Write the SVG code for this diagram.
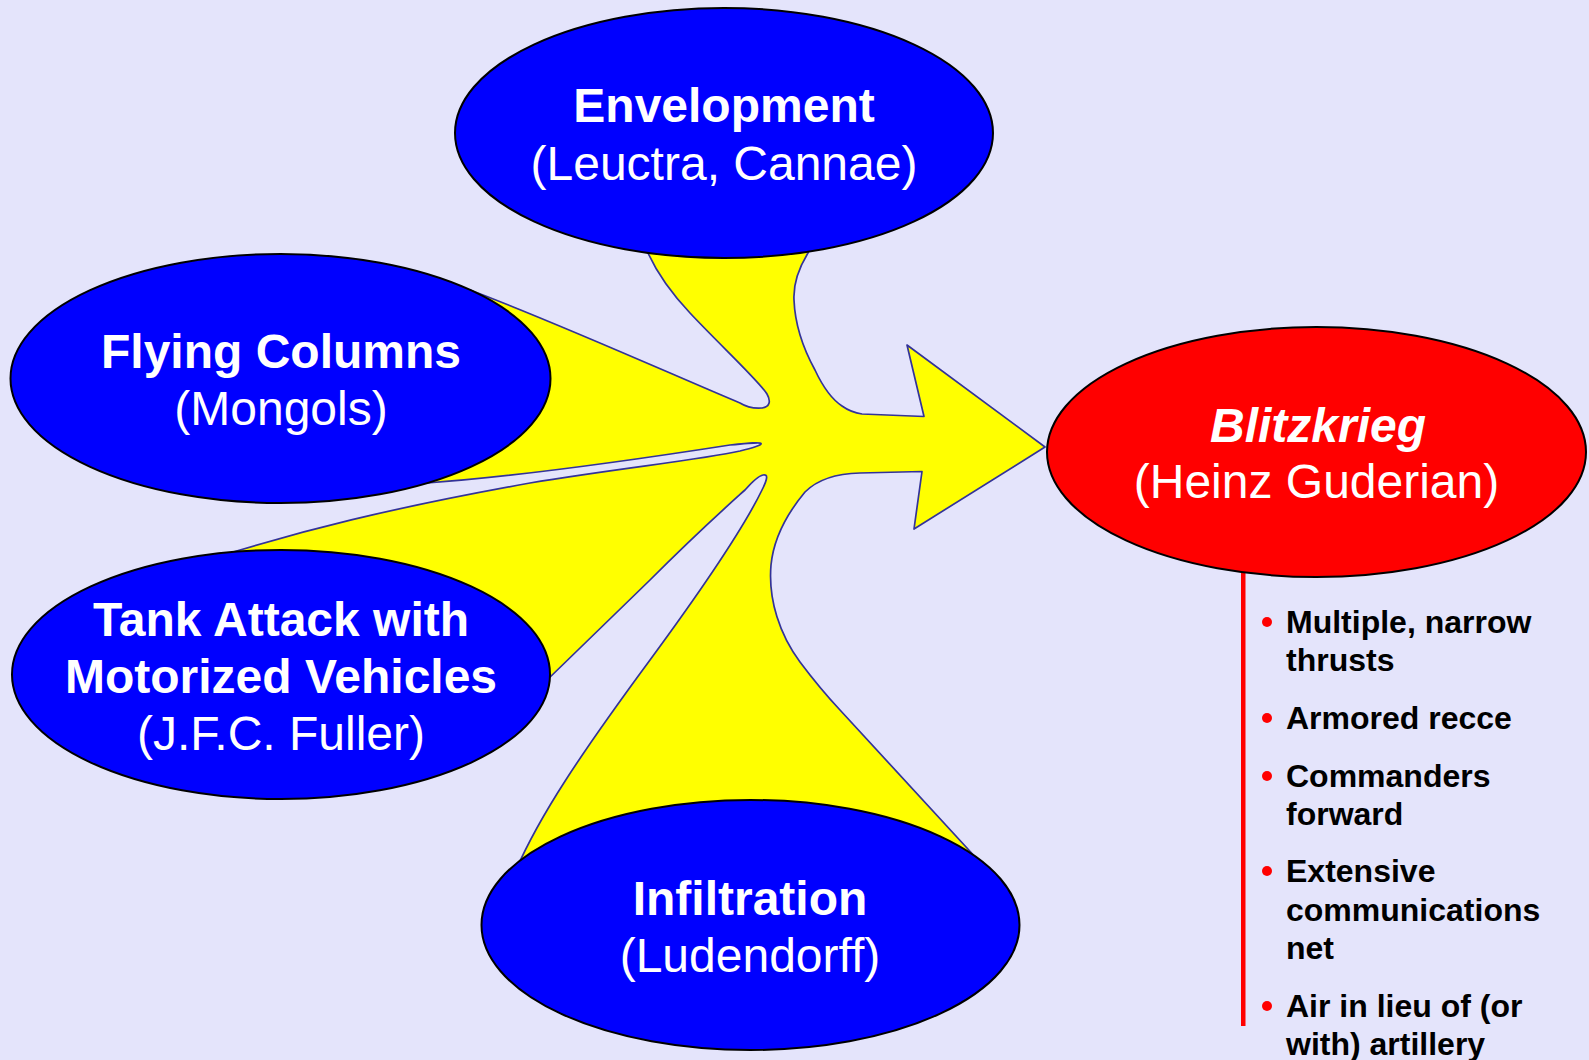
<svg xmlns="http://www.w3.org/2000/svg" width="1589" height="1060" viewBox="0 0 1589 1060">
<style>
.bg{fill:#E4E4FB}
.node{fill:#0000FF;stroke:#000;stroke-width:2}
.hot{fill:#FF0000;stroke:#000;stroke-width:2}
.t{font-family:"Liberation Sans",Arial,sans-serif;font-size:48px;fill:#FFFFFF;text-anchor:middle}
.b{font-weight:bold}
.flow{fill:#FFFF00;stroke:#333399;stroke-width:1.7;stroke-linejoin:round}
.li{font-family:"Liberation Sans",Arial,sans-serif;font-size:32px;font-weight:bold;fill:#000}
.dot{fill:#FF0000}
</style>
<rect class="bg" x="0" y="0" width="1589" height="1060"/>
<g id="connectors">
<path class="flow" d="M 724,140 L 815,235 L 808,253
C 800,266 793,281 794,300
C 795,325 804,350 815,370
C 822,385 830,398 842,406
C 849,411 855,413 862,414
L 924,416.5 L 907,345 L 1045,447 L 914,529 L 922,471.5 L 860,473
C 838,473.5 818,479 805,492
C 790,510 774,535 771,565
C 768,600 780,635 800,662
C 812,678 825,694 840,710
L 978,860 L 950,900 L 750,925 L 516,870
C 540,815 580,755 650,660
C 700,592 745,525 762,490
C 768,478 768,474 763,475
C 758,476 752,482 745,490
C 725,508 700,530 650,580
L 545,682 L 281,675 L 200,562 L 240,550
C 300,532 380,510 530,483
C 620,468 700,460 740,451
C 752,448 762,445 761,443.5
C 760,442 750,443 730,445
C 640,459 510,477 427,483
L 400,485 L 280,380 L 440,300 L 470,290
C 560,324 680,378 740,403
C 748,408 756,408.5 762,408
C 770,407 771,401 767,394
C 760,382 720,345 690,313
C 675,297 658,275 648,253
L 641,240 Z"/>
</g>
<g id="node-envelopment">
<ellipse class="node" cx="724" cy="133" rx="269" ry="125"/>
<text class="t b" x="724" y="122">Envelopment</text>
<text class="t" x="724" y="180">(Leuctra, Cannae)</text>
</g>
<g id="node-flying-columns">
<ellipse class="node" cx="280.5" cy="378.5" rx="270" ry="124.5"/>
<text class="t b" x="281" y="368">Flying Columns</text>
<text class="t" x="281" y="425">(Mongols)</text>
</g>
<g id="node-tank-attack">
<ellipse class="node" cx="281" cy="674.5" rx="269" ry="124.5"/>
<text class="t b" x="281" y="636">Tank Attack with</text>
<text class="t b" x="281" y="693">Motorized Vehicles</text>
<text class="t" x="281" y="750">(J.F.C. Fuller)</text>
</g>
<g id="node-infiltration">
<ellipse class="node" cx="750.5" cy="925" rx="269" ry="125"/>
<text class="t b" x="750" y="915">Infiltration</text>
<text class="t" x="750" y="972">(Ludendorff)</text>
</g>
<g id="node-blitzkrieg">
<rect x="1241" y="560" width="4.5" height="466" fill="#FF0000"/>
<ellipse class="hot" cx="1316.5" cy="452" rx="269.5" ry="125"/>
<text class="t b" x="1318" y="442" font-style="italic">Blitzkrieg</text>
<text class="t" x="1316.5" y="498">(Heinz Guderian)</text>
<g id="blitzkrieg-list">
<circle class="dot" cx="1267" cy="622" r="5"/>
<text class="li" x="1286" y="633">Multiple, narrow</text>
<text class="li" x="1286" y="671">thrusts</text>
<circle class="dot" cx="1267" cy="718" r="5"/>
<text class="li" x="1286" y="729">Armored recce</text>
<circle class="dot" cx="1267" cy="776" r="5"/>
<text class="li" x="1286" y="787">Commanders</text>
<text class="li" x="1286" y="825">forward</text>
<circle class="dot" cx="1267" cy="871" r="5"/>
<text class="li" x="1286" y="882">Extensive</text>
<text class="li" x="1286" y="921">communications</text>
<text class="li" x="1286" y="959">net</text>
<circle class="dot" cx="1267" cy="1006" r="5"/>
<text class="li" x="1286" y="1017">Air in lieu of (or</text>
<text class="li" x="1286" y="1055">with) artillery</text>
</g>
</g>
</svg>
